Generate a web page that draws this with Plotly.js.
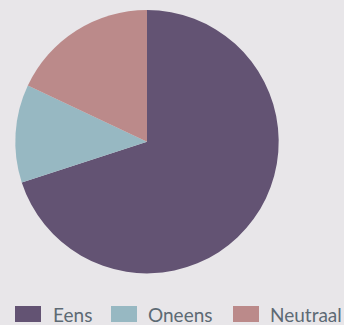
<!DOCTYPE html>
<html><head><meta charset="utf-8">
<script src="https://cdn.plot.ly/plotly-3.0.1.min.js"></script>
<style>html,body{margin:0;padding:0;background:#e8e6e9;}#chart{width:344px;height:325px;}</style>
</head><body><div id="chart"></div>
<script>
var categories = ["Eens", "Oneens", "Neutraal"];
var values = [70, 12, 18];
var colors = ["#635373", "#97b8c2", "#bb8a8a"];

var legendSquareX = [15, 111, 233];
var legendTextX = [51, 146, 268];

var W = 344, H = 325;
var shapes = [], annotations = [];
for (var i = 0; i < categories.length; i++) {
  shapes.push({type: "rect", xref: "paper", yref: "paper",
    x0: legendSquareX[i] / W, x1: (legendSquareX[i] + 26) / W,
    y0: 1 - 322 / H, y1: 1 - 306 / H,
    fillcolor: colors[i], line: {width: 0}});
  annotations.push({xref: "paper", yref: "paper", x: legendTextX[i] / W, y: 1 - 314 / H,
    xanchor: "left", yanchor: "middle", showarrow: false, text: categories[i],
    font: {family: "Lato", size: 19, color: "#5d6a74"}});
}

var data = [{
  type: "pie", labels: categories, values: values, sort: false,
  direction: "clockwise", rotation: 0,
  marker: {colors: colors, line: {width: 0}},
  textinfo: "none", hoverinfo: "label+percent", showlegend: false,
  domain: {x: [15.3 / W, 278.7 / W], y: [1 - 273.4 / H, 1 - 10 / H]}
}];
var layout = {
  width: W, height: H, margin: {l: 0, r: 0, t: 0, b: 0},
  paper_bgcolor: "#e8e6e9", plot_bgcolor: "#e8e6e9",
  showlegend: false, shapes: shapes, annotations: annotations
};
Plotly.newPlot("chart", data, layout, {displayModeBar: false, staticPlot: true});
</script></body></html>
